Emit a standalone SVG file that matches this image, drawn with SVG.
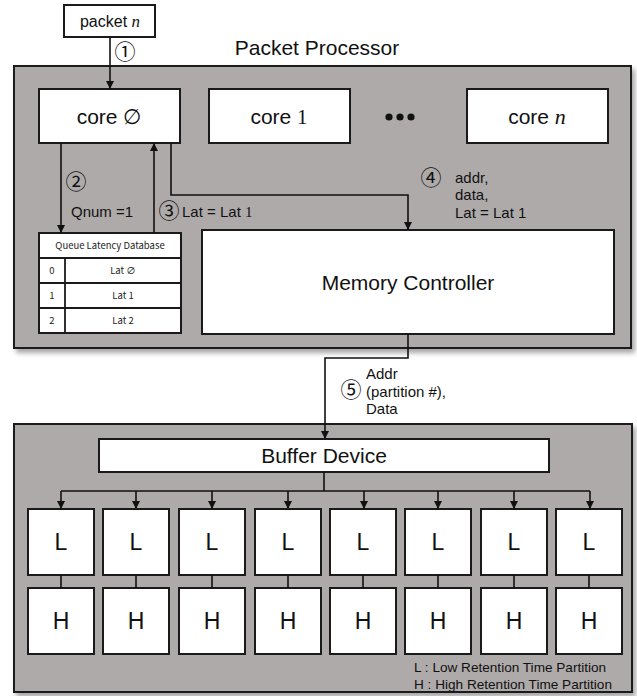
<svg xmlns="http://www.w3.org/2000/svg" width="637" height="696" viewBox="0 0 637 696">
<style>
  .outer { fill: #aeaaa9; stroke: #1a1a1a; stroke-width: 2; }
  .box { fill: #ffffff; stroke: #1a1a1a; stroke-width: 2; }
  .wire { fill: none; stroke: #111; stroke-width: 1.6; }
  .t { font-family: "Liberation Sans", Arial, sans-serif; fill: #111; }
  .math { font-family: "Liberation Serif", "Times New Roman", serif; font-style: italic; }
  .num { font-family: "Liberation Serif", serif; }
  .big { font-size: 21px; text-anchor: middle; }
  .lbl { font-size: 15px; }
  .circ { font-family: "Noto Sans CJK KR", "DejaVu Sans", sans-serif; font-size: 21px; fill: #111; text-anchor: middle; }
  .tbl { font-family: "Noto Sans CJK KR", "Liberation Sans", sans-serif; font-size: 9.5px; fill: #222; text-anchor: middle; }
  .lh { font-family: "Liberation Sans", Arial, sans-serif; font-size: 23px; fill: #111; text-anchor: middle; }
  .leg { font-family: "Liberation Sans", Arial, sans-serif; font-size: 13.6px; fill: #111; }
</style>
<defs>
  <marker id="arr" viewBox="0 0 10 10" refX="10" refY="5" markerWidth="8" markerHeight="8" markerUnits="userSpaceOnUse" orient="auto">
    <path d="M0,0 L10,5 L0,10 Z" fill="#111"/>
  </marker>
  <filter id="shadow" x="-5%" y="-5%" width="112%" height="115%">
    <feDropShadow dx="3" dy="4" stdDeviation="2.5" flood-color="#000" flood-opacity="0.35"/>
  </filter>
</defs>
<rect width="637" height="696" fill="#ffffff"/>

<!-- Packet Processor container -->
<g id="packet-processor">
  <rect class="outer" x="14" y="66" width="617" height="282" filter="url(#shadow)"/>
  <text class="t big" x="317" y="55">Packet Processor</text>
</g>

<!-- Buffer container -->
<g id="buffer-container">
  <rect class="outer" x="14" y="424" width="618" height="268" filter="url(#shadow)"/>
</g>

<g id="packet-n">
  <rect class="box" x="64" y="5" width="91" height="32" stroke-width="1.2"/>
  <text class="t" x="110" y="27" font-size="16" text-anchor="middle">packet <tspan class="math" font-size="17">n</tspan></text>
</g>

<g id="core0">
  <rect class="box" x="39" y="89" width="141" height="54"/>
  <text class="t big" x="109" y="124">core ∅</text>
</g>
<g id="core1">
  <rect class="box" x="209" y="89" width="141" height="54"/>
  <text class="t big" x="279" y="124">core <tspan class="num">1</tspan></text>
</g>
<g id="dots">
  <circle cx="389" cy="117" r="3.6" fill="#111"/>
  <circle cx="400" cy="117" r="3.6" fill="#111"/>
  <circle cx="411" cy="117" r="3.6" fill="#111"/>
</g>
<g id="coren">
  <rect class="box" x="467" y="89" width="141" height="54"/>
  <text class="t big" x="537" y="124">core <tspan class="math" font-size="22">n</tspan></text>
</g>

<g id="queue-latency-db">
  <rect class="box" x="39" y="233" width="142" height="100" stroke-width="1.8"/>
  <line x1="39" y1="258" x2="181" y2="258" stroke="#1a1a1a" stroke-width="1.8"/>
  <line x1="39" y1="283" x2="181" y2="283" stroke="#1a1a1a" stroke-width="1.8"/>
  <line x1="39" y1="308" x2="181" y2="308" stroke="#1a1a1a" stroke-width="1.8"/>
  <line x1="65" y1="258" x2="65" y2="333" stroke="#1a1a1a" stroke-width="1.8"/>
  <text class="tbl" x="110" y="249">Queue Latency Database</text>
  <text class="tbl" x="52" y="274">0</text>
  <text class="tbl" x="123" y="274">Lat ∅</text>
  <text class="tbl" x="52" y="299">1</text>
  <text class="tbl" x="123" y="299">Lat 1</text>
  <text class="tbl" x="52" y="324">2</text>
  <text class="tbl" x="123" y="324">Lat 2</text>
</g>

<g id="memory-controller">
  <rect class="box" x="202" y="230" width="412" height="104"/>
  <text class="t big" x="408" y="290">Memory Controller</text>
</g>

<g id="buffer-device">
  <rect class="box" x="99" y="439" width="450" height="33"/>
  <text class="t big" x="324" y="463">Buffer Device</text>
</g>

<g id="partitions">
  <g id="part1"><rect class="box" x="28" y="509" width="66" height="66"/><rect class="box" x="28" y="588" width="66" height="66"/><text class="lh" x="61" y="550">L</text><text class="lh" x="61" y="629">H</text></g>
  <g id="part2"><rect class="box" x="103" y="509" width="66" height="66"/><rect class="box" x="103" y="588" width="66" height="66"/><text class="lh" x="136" y="550">L</text><text class="lh" x="136" y="629">H</text></g>
  <g id="part3"><rect class="box" x="179" y="509" width="66" height="66"/><rect class="box" x="179" y="588" width="66" height="66"/><text class="lh" x="212" y="550">L</text><text class="lh" x="212" y="629">H</text></g>
  <g id="part4"><rect class="box" x="255" y="509" width="66" height="66"/><rect class="box" x="255" y="588" width="66" height="66"/><text class="lh" x="288" y="550">L</text><text class="lh" x="288" y="629">H</text></g>
  <g id="part5"><rect class="box" x="330" y="509" width="66" height="66"/><rect class="box" x="330" y="588" width="66" height="66"/><text class="lh" x="363" y="550">L</text><text class="lh" x="363" y="629">H</text></g>
  <g id="part6"><rect class="box" x="405" y="509" width="66" height="66"/><rect class="box" x="405" y="588" width="66" height="66"/><text class="lh" x="438" y="550">L</text><text class="lh" x="438" y="629">H</text></g>
  <g id="part7"><rect class="box" x="481" y="509" width="66" height="66"/><rect class="box" x="481" y="588" width="66" height="66"/><text class="lh" x="514" y="550">L</text><text class="lh" x="514" y="629">H</text></g>
  <g id="part8"><rect class="box" x="556" y="509" width="66" height="66"/><rect class="box" x="556" y="588" width="66" height="66"/><text class="lh" x="589" y="550">L</text><text class="lh" x="589" y="629">H</text></g>
</g>

<g id="legend">
  <text class="leg" x="414" y="672">L : Low Retention Time Partition</text>
  <text class="leg" x="414" y="689">H : High Retention Time Partition</text>
</g>

<g id="connectors">
  <line class="wire" x1="110" y1="37" x2="110" y2="89" marker-end="url(#arr)" stroke-width="1.2"/>
  <line class="wire" x1="61" y1="143" x2="61" y2="233" marker-end="url(#arr)"/>
  <line class="wire" x1="154" y1="233" x2="154" y2="143" marker-end="url(#arr)"/>
  <polyline class="wire" points="171,143 171,195 408,195 408,230" marker-end="url(#arr)"/>
  <polyline class="wire" points="408,334 408,358 325,358 325,439" marker-end="url(#arr)"/>
  <line class="wire" x1="324" y1="472" x2="324" y2="491"/>
  <line class="wire" x1="61" y1="491" x2="590" y2="491"/>
  <line class="wire" x1="61" y1="491" x2="61" y2="509" marker-end="url(#arr)"/>
  <line class="wire" x1="136" y1="491" x2="136" y2="509" marker-end="url(#arr)"/>
  <line class="wire" x1="212" y1="491" x2="212" y2="509" marker-end="url(#arr)"/>
  <line class="wire" x1="288" y1="491" x2="288" y2="509" marker-end="url(#arr)"/>
  <line class="wire" x1="364" y1="491" x2="364" y2="509" marker-end="url(#arr)"/>
  <line class="wire" x1="438" y1="491" x2="438" y2="509" marker-end="url(#arr)"/>
  <line class="wire" x1="514" y1="491" x2="514" y2="509" marker-end="url(#arr)"/>
  <line class="wire" x1="590" y1="491" x2="590" y2="509" marker-end="url(#arr)"/>
  <line class="wire" x1="61" y1="575" x2="61" y2="588"/>
  <line class="wire" x1="136" y1="575" x2="136" y2="588"/>
  <line class="wire" x1="212" y1="575" x2="212" y2="588"/>
  <line class="wire" x1="288" y1="575" x2="288" y2="588"/>
  <line class="wire" x1="363" y1="575" x2="363" y2="588"/>
  <line class="wire" x1="438" y1="575" x2="438" y2="588"/>
  <line class="wire" x1="514" y1="575" x2="514" y2="588"/>
  <line class="wire" x1="589" y1="575" x2="589" y2="588"/>

  <text class="circ" x="125" y="59">①</text>
  <text class="circ" x="76" y="189">②</text>
  <text class="t lbl" x="71" y="217">Qnum =1</text>
  <text class="circ" x="169" y="218">③</text>
  <text class="t lbl" x="182" y="217">Lat = Lat <tspan class="num">1</tspan></text>
  <text class="circ" x="431" y="185">④</text>
  <text class="t lbl" x="455" y="183">addr,</text>
  <text class="t lbl" x="455" y="200">data,</text>
  <text class="t lbl" x="455" y="218">Lat = Lat 1</text>
  <text class="circ" x="351" y="397">⑤</text>
  <text class="t lbl" x="366" y="379">Addr</text>
  <text class="t lbl" x="366" y="397">(partition #),</text>
  <text class="t lbl" x="366" y="414">Data</text>
</g>
</svg>
